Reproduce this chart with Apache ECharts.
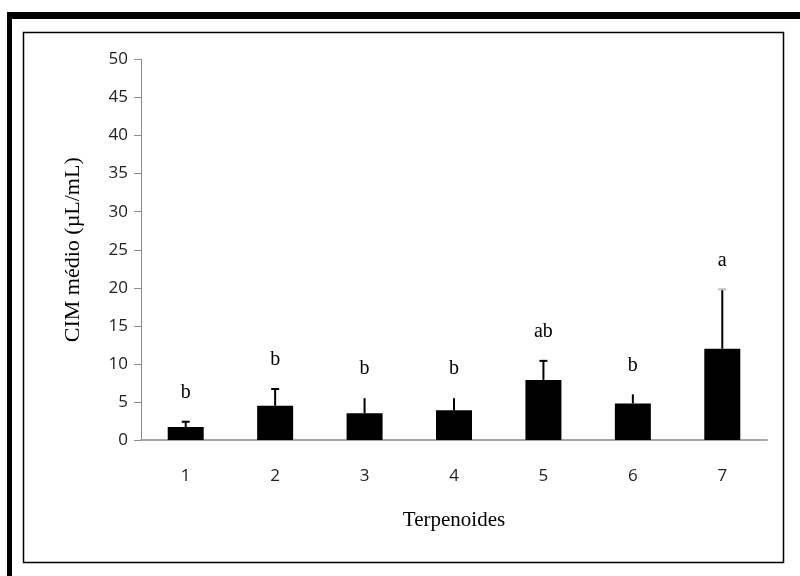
<!DOCTYPE html>
<html>
<head>
<meta charset="utf-8">
<script src="https://cdn.jsdelivr.net/npm/echarts@6/dist/echarts.min.js"></script>
<style>
  html, body { margin: 0; padding: 0; background: #fff; }
  #chart { width: 800px; height: 576px; }
</style>
</head>
<body>
<div id="chart"></div>
<script>
// Mean MIC per terpenoid, its standard deviation and the significance letters
const categories = ['1', '2', '3', '4', '5', '6', '7'];
const means = [1.7, 4.5, 3.5, 3.9, 7.9, 4.8, 12.0];
const deviations = [0.7, 2.2, 2.0, 1.6, 2.5, 1.2, 7.8];
const letters = ['b', 'b', 'b', 'b', 'ab', 'b', 'a'];
const yTicks = { min: 0, max: 50, step: 5 };

// error bars that carry a short cap
const capped = [true, true, false, false, true, false, true];

const chart = echarts.init(document.getElementById('chart'), null, { renderer: 'canvas' });

const serif = 'Liberation Serif, Times New Roman, serif';
const sans = 'Open Sans, Liberation Sans, sans-serif';

const option = {
  backgroundColor: '#ffffff',
  animation: false,
  graphic: [
    // thick outer border (runs off the right and bottom edges)
    { type: 'rect', shape: { x: 7, y: 12, width: 800, height: 7 }, style: { fill: '#000' }, silent: true },
    { type: 'rect', shape: { x: 7, y: 12, width: 5, height: 570 }, style: { fill: '#000' }, silent: true },
    // thin inner chart-area frame
    { type: 'rect', shape: { x: 23.5, y: 32.5, width: 760, height: 530 }, style: { fill: 'none', stroke: '#000', lineWidth: 1.5 }, silent: true }
  ],
  grid: { left: 141, right: 33, top: 59.5, bottom: 136, containLabel: false },
  xAxis: {
    type: 'category',
    data: categories,
    boundaryGap: true,
    name: 'Terpenoides',
    nameLocation: 'middle',
    nameGap: 70,
    nameTextStyle: { fontFamily: serif, fontSize: 21, color: '#000' },
    axisLine: { lineStyle: { color: '#a6a6a6', width: 2 } },
    axisTick: { show: false },
    axisLabel: { fontFamily: sans, fontSize: 17, color: '#222', margin: 28 }
  },
  yAxis: {
    type: 'value',
    min: yTicks.min,
    max: yTicks.max,
    interval: yTicks.step,
    name: 'CIM médio (µL/mL)',
    nameLocation: 'middle',
    nameGap: 57,
    nameRotate: 90,
    nameTextStyle: { fontFamily: serif, fontSize: 22, color: '#000' },
    axisLine: { show: true, lineStyle: { color: '#8c8c8c', width: 1 } },
    axisTick: { show: true, inside: false, length: 7, lineStyle: { color: '#8c8c8c' } },
    splitLine: { show: false },
    axisLabel: { fontFamily: sans, fontSize: 17, color: '#222', margin: 13 }
  },
  series: [
    {
      type: 'bar',
      data: means,
      barWidth: 36,
      itemStyle: { color: '#000' },
      z: 2
    },
    {
      type: 'custom',
      data: means.map((m, i) => [i, m, deviations[i]]),
      z: 3,
      renderItem: function (params, api) {
        const i = api.value(0);
        const mean = api.value(1);
        const sd = api.value(2);
        const base = api.coord([i, mean]);
        const top = api.coord([i, mean + sd]);
        const children = [
          { type: 'line', shape: { x1: base[0], y1: base[1], x2: top[0], y2: top[1] },
            style: { stroke: '#000', lineWidth: 2 } }
        ];
        if (capped[i]) {
          children.push({ type: 'line', shape: { x1: top[0] - 4, y1: top[1], x2: top[0] + 4, y2: top[1] },
            style: { stroke: i === 6 ? '#bbb' : '#000', lineWidth: 2 } });
        }
        children.push({
          type: 'text',
          style: {
            x: top[0], y: top[1] - 29, text: letters[i],
            fontFamily: serif, fontSize: 20, fill: '#000',
            align: 'center', verticalAlign: 'middle'
          }
        });
        return { type: 'group', children: children };
      }
    }
  ]
};

chart.setOption(option);
</script>
</body>
</html>
